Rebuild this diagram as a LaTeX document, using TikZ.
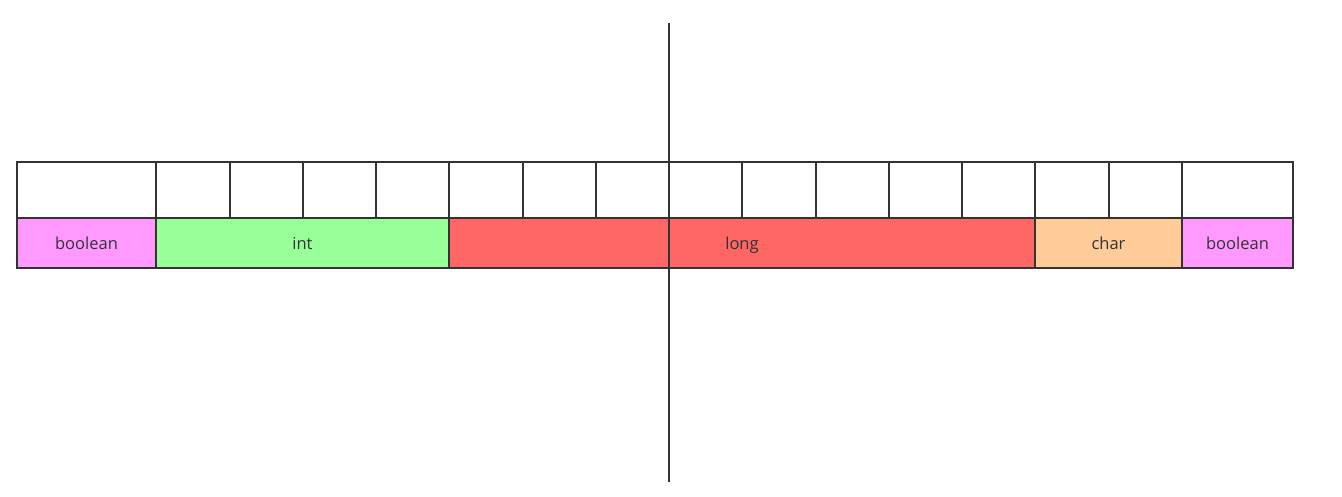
\documentclass[tikz,border=0pt]{standalone}
\usepackage{fontspec}
\setmainfont{Open Sans}
\begin{document}
\begin{tikzpicture}[x=1pt,y=-1pt,
  cell/.style={draw=lc,line width=2pt,inner sep=0pt,outer sep=0pt,anchor=north west,minimum height=56pt,fill=white},
  block/.style={draw=lc,line width=2pt,inner sep=0pt,outer sep=0pt,anchor=north west,minimum height=50pt,text=tc,text height=14pt,text depth=0pt,font=\fontsize{16.5}{19}\selectfont},
  axis/.style={draw=lc,line width=2pt}]
\definecolor{lc}{HTML}{333333}
\definecolor{tc}{HTML}{333333}
\definecolor{cpink}{HTML}{FF99FF}
\definecolor{cgreen}{HTML}{99FF99}
\definecolor{cred}{HTML}{FF6666}
\definecolor{corange}{HTML}{FFCC99}
\useasboundingbox (0,0) rectangle (1342,497);
% top row cells
\foreach \a/\b [count=\i] in {17/156,156/230,230/303,303/376,376/449,449/523,523/596,596/669,669/742,742/816,816/889,889/962,962/1035,1035/1109,1109/1182,1182/1293}{
  \pgfmathsetmacro{\w}{\b-\a}
  \node[cell,minimum width=\w pt] (c\i) at (\a,162) {};
}
% bottom row
\node[block,fill=cpink,minimum width=139pt] (b1) at (17,218) {boolean};
\node[block,fill=cgreen,minimum width=293pt] (b2) at (156,218) {int};
\node[block,fill=cred,minimum width=586pt] (b3) at (449,218) {long};
\node[block,fill=corange,minimum width=147pt] (b4) at (1035,218) {char};
\node[block,fill=cpink,minimum width=111pt] (b5) at (1182,218) {boolean};
% vertical line
\coordinate (vt) at (669,23);
\coordinate (vb) at (669,482);
\draw[axis] (vt) -- (vb);
\end{tikzpicture}
\end{document}
